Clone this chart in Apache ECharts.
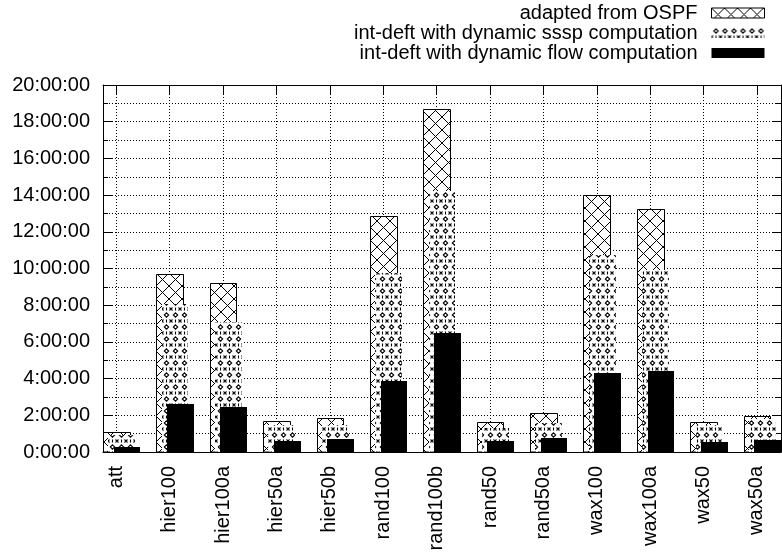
<!DOCTYPE html>
<html>
<head>
<meta charset="utf-8">
<script src="https://cdn.jsdelivr.net/npm/echarts@6/dist/echarts.min.js"></script>
<style>
  html, body { margin: 0; padding: 0; background: #fff; }
  #chart { width: 782px; height: 552px; }
</style>
</head>
<body>
<div id="chart"></div>
<script>
// Run times per topology, in hours.
const categories = ['att', 'hier100', 'hier100a', 'hier50a', 'hier50b', 'rand100', 'rand100b',
                    'rand50', 'rand50a', 'wax100', 'wax100a', 'wax50', 'wax50a'];
const ospfHours = [1.07, 9.72, 9.23, 1.69, 1.86, 12.85, 18.68, 1.65, 2.10, 14.00, 13.22, 1.62, 1.97];
const ssspHours = [0.95, 8.04, 7.08, 1.46, 1.49, 9.75, 14.23, 1.30, 1.60, 10.71, 9.91, 1.45, 1.78];
const flowHours = [0.27, 2.62, 2.46, 0.59, 0.70, 3.86, 6.47, 0.58, 0.76, 4.29, 4.40, 0.53, 0.64];
const seriesNames = ['adapted from OSPF',
                     'int-deft with dynamic sssp computation',
                     'int-deft with dynamic flow computation'];
const yTickHours = [0, 2, 4, 6, 8, 10, 12, 14, 16, 18, 20];

const FONT = '"Liberation Sans", Arial, Helvetica, sans-serif';
const BOX_WIDTH = 0.5;          // box width in category units
const OFFSETS = [0, 0.1, 0.2];  // each series is shifted right a little
const categoryIdx = categories.map((_, i) => i);

// Crosshatch fill tile
function crosshatchTile() {
  const s = 13;
  const c = document.createElement('canvas');
  c.width = s; c.height = s;
  const g = c.getContext('2d');
  g.fillStyle = '#fff'; g.fillRect(0, 0, s, s);
  g.strokeStyle = '#000'; g.lineWidth = 1;
  g.beginPath();
  g.moveTo(0, 0); g.lineTo(s, s);
  g.moveTo(s, 0); g.lineTo(0, s);
  g.stroke();
  return c;
}

// Rings, crosses and short bars fill tile
function ringTile() {
  const w = 9, h = 12;
  const c = document.createElement('canvas');
  c.width = w; c.height = h;
  const g = c.getContext('2d');
  g.fillStyle = '#fff'; g.fillRect(0, 0, w, h);
  g.strokeStyle = '#000'; g.lineWidth = 1.1;
  g.beginPath();
  g.moveTo(4.5, 0.8); g.lineTo(6.7, 3); g.lineTo(4.5, 5.2); g.lineTo(2.3, 3); g.closePath();
  g.stroke();
  g.beginPath();
  // crosses straddling the tile edge
  g.moveTo(-1.5, 7.5); g.lineTo(1.5, 10.5);
  g.moveTo(1.5, 7.5); g.lineTo(-1.5, 10.5);
  g.moveTo(7.5, 7.5); g.lineTo(10.5, 10.5);
  g.moveTo(10.5, 7.5); g.lineTo(7.5, 10.5);
  // short bar under the ring
  g.moveTo(4.5, 7.5); g.lineTo(4.5, 10.5);
  g.stroke();
  return c;
}

const ospfFill = { image: crosshatchTile(), repeat: 'repeat' };
const ssspFill = { image: ringTile(), repeat: 'repeat' };

const styles = [
  { fill: ospfFill, stroke: '#000', lineWidth: 1 },
  { fill: ssspFill, stroke: null, lineWidth: 0 },
  { fill: '#000', stroke: null, lineWidth: 0 }
];

function boxRenderer(seriesIndex) {
  return function (params, api) {
    const x = api.value(0) + OFFSETS[seriesIndex];
    const top = api.coord([x, api.value(1)]);
    const base = api.coord([x, 0]);
    const w = api.size([BOX_WIDTH, 0])[0];
    const st = styles[seriesIndex];
    const half = st.lineWidth ? 0.5 : 0;
    const left = Math.round(top[0] - w / 2) + half;
    const right = Math.round(top[0] + w / 2) + half;
    const y0 = Math.round(top[1]) + half;
    const y1 = Math.round(base[1]);
    return {
      type: 'rect',
      shape: { x: left, y: y0, width: right - left, height: y1 - y0 },
      style: Object.assign({}, st)
    };
  };
}

const valueLists = [ospfHours, ssspHours, flowHours];
const series = valueLists.map((vals, k) => ({
  name: seriesNames[k],
  type: 'custom',
  renderItem: boxRenderer(k),
  encode: { x: 0, y: 1 },
  data: vals.map((v, i) => [i, v]),
  itemStyle: { color: k === 0 ? ospfFill : (k === 1 ? ssspFill : '#000') },
  silent: true
}));

const dotted = { color: '#000', width: 1, type: [1, 2] };
const axisLine = { show: true, onZero: false, lineStyle: { color: '#000', width: 1 } };

const chart = echarts.init(document.getElementById('chart'), null, { renderer: 'canvas' });
chart.setOption({
  animation: false,
  backgroundColor: '#fff',
  textStyle: { fontFamily: FONT },
  grid: { left: 103, right: 1, top: 85, bottom: 100, containLabel: false, outerBoundsMode: 'none' },
  legend: {
    orient: 'vertical',
    right: 17,
    top: 3,
    padding: 0,
    align: 'right',
    itemWidth: 53,
    itemHeight: 10,
    itemGap: 0,
    icon: 'rect',
    selectedMode: false,
    textStyle: { fontSize: 20, fontFamily: FONT, color: '#000', lineHeight: 19.5, padding: [0, 9, 0, 0] },
    data: [
      { name: seriesNames[0], itemStyle: { color: ospfFill, borderColor: '#000', borderWidth: 1 } },
      { name: seriesNames[1], itemStyle: { color: ssspFill, borderColor: '#000', borderWidth: 0 } },
      { name: seriesNames[2], itemStyle: { color: '#000', borderColor: '#000', borderWidth: 0 } }
    ]
  },
  xAxis: [{
    type: 'value',
    min: -0.25,
    max: 12.45,
    position: 'bottom',
    axisLine: axisLine,
    axisTick: { show: true, inside: true, length: 9, customValues: categoryIdx, lineStyle: { color: '#000' } },
    axisLabel: {
      customValues: categoryIdx,
      formatter: v => categories[Math.round(v)],
      rotate: 90, margin: 14, fontSize: 20, color: '#000', fontFamily: FONT
    },
    splitLine: { show: true, customValues: categoryIdx, lineStyle: dotted }
  }, {
    type: 'value',
    min: -0.25,
    max: 12.45,
    position: 'top',
    axisLine: axisLine,
    axisTick: { show: true, inside: true, length: 9, customValues: categoryIdx, lineStyle: { color: '#000' } },
    axisLabel: { show: false },
    splitLine: { show: false }
  }],
  yAxis: [{
    type: 'value',
    min: yTickHours[0],
    max: yTickHours[yTickHours.length - 1],
    interval: 2,
    position: 'left',
    axisLine: axisLine,
    axisTick: { show: true, inside: true, length: 9, lineStyle: { color: '#000' } },
    minorTick: { show: true, splitNumber: 2, length: 5, lineStyle: { color: '#000' } },
    axisLabel: { formatter: v => v + ':00:00', margin: 13, fontSize: 20, color: '#000', fontFamily: FONT },
    splitLine: { show: true, lineStyle: dotted },
    minorSplitLine: { show: true, lineStyle: dotted }
  }, {
    type: 'value',
    min: yTickHours[0],
    max: yTickHours[yTickHours.length - 1],
    interval: 2,
    position: 'right',
    axisLine: axisLine,
    axisTick: { show: true, inside: true, length: 9, lineStyle: { color: '#000' } },
    minorTick: { show: true, splitNumber: 2, length: 5, lineStyle: { color: '#000' } },
    axisLabel: { show: false },
    splitLine: { show: false }
  }],
  series: series
});
</script>
</body>
</html>
